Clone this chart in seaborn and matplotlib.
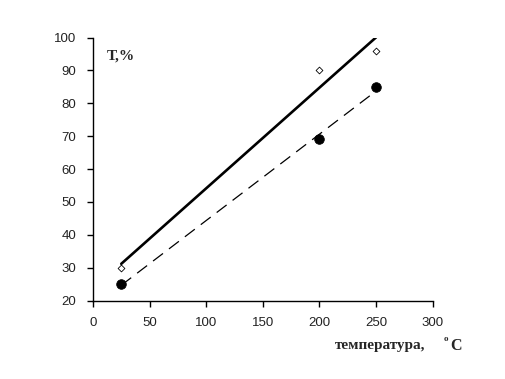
import numpy as np
import pandas as pd
import matplotlib
matplotlib.use("Agg")
import matplotlib.pyplot as plt
import seaborn as sns

# data
temp = [25, 200, 250]
t_open = [30, 90, 96]      # open diamonds, solid trend line
t_filled = [25, 69, 85]    # filled circles, dashed trend line

x_ticks = [0, 50, 100, 150, 200, 250, 300]
y_ticks = [20, 30, 40, 50, 60, 70, 80, 90, 100]

df = pd.DataFrame({"temp": temp, "open": t_open, "filled": t_filled})

sns.set_style("ticks")
plt.rcParams['font.family'] = ['Liberation Serif', 'DejaVu Serif']

fig = plt.figure(figsize=(5.05, 3.79), dpi=100)
ax = fig.add_axes([0.184, 0.207, 0.673, 0.694])

# trend lines (linear fits through the points)
sns.regplot(data=df, x="temp", y="open", ci=None, scatter=False, ax=ax,
            line_kws=dict(color="black", lw=1.9))
sns.regplot(data=df, x="temp", y="filled", ci=None, scatter=False, ax=ax,
            line_kws=dict(color="black", lw=0.9, dashes=(10, 6)))

sns.scatterplot(data=df, x="temp", y="open", marker="D", s=12,
                facecolor="white", edgecolor="black", linewidth=0.6, ax=ax, zorder=5)
sns.scatterplot(data=df, x="temp", y="filled", marker="o", s=48,
                color="black", edgecolor="black", ax=ax, zorder=5)

ax.set_xlim(0, 300)
ax.set_ylim(20, 100)
ax.set_xticks(x_ticks)
ax.set_yticks(y_ticks)
ax.set_xlabel("")
ax.set_ylabel("")
for lab in ax.get_xticklabels() + ax.get_yticklabels():
    lab.set_family(['Liberation Sans', 'DejaVu Sans'])
    lab.set_fontsize(9.5)
    lab.set_color("#222222")
ax.tick_params(direction="out", length=4, width=1, color="black", pad=8)
for s in ["left", "bottom"]:
    ax.spines[s].set_linewidth(1)
    ax.spines[s].set_color("black")
sns.despine(ax=ax)

ax.text(12, 94.5, "T,%", fontsize=11, fontweight="bold", va="center", ha="left")
fig.text(0.663, 0.088, "температура,", fontsize=11, fontweight="bold",
         ha="left", va="center")
fig.text(0.892, 0.088, "C", fontsize=11.5, fontweight="bold", ha="left", va="center")
fig.text(0.879, 0.106, "o", fontsize=6.5, fontweight="bold", ha="left", va="center")

fig.savefig("out.png", dpi=100)
